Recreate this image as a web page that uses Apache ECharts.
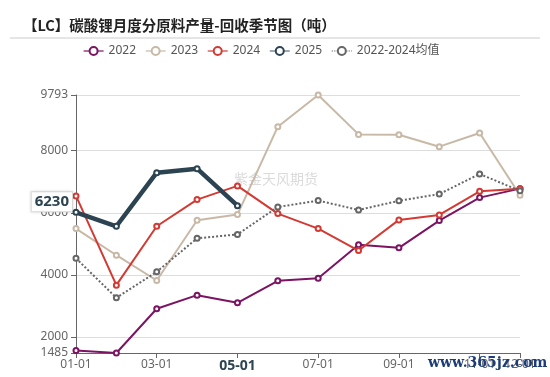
<!DOCTYPE html>
<html>
<head>
<meta charset="utf-8">
<script src="https://cdn.jsdelivr.net/npm/echarts@6/dist/echarts.min.js"></script>
<style>
  html, body { margin: 0; padding: 0; background: #fff; }
  #chart { width: 550px; height: 377px; }
</style>
</head>
<body>
<div id="chart"></div>
<script>
// 月份
const months = ['01-01', '02-01', '03-01', '04-01', '05-01', '06-01',
  '07-01', '08-01', '09-01', '10-01', '11-01', '12-01']

// 各年回收料产量（吨），读自原图
const y2022 = [1569, 1485, 2910, 3347, 3103, 3810, 3894, 4968, 4871, 5749, 6489, 6778]
const y2023 = [5492, 4634, 3820, 5760, 5942, 8772, 9793, 8524, 8514, 8129, 8569, 6563]
const y2024 = [6543, 3669, 5566, 6424, 6865, 5974, 5492, 4785, 5771, 5932, 6692, 6778]
const y2025 = [6017, 5566, 7293, 7421, 6230]
const avg2224 = [4535, 3263, 4099, 5177, 5303, 6185, 6393, 6092, 6385, 6603, 7250, 6706]

const latest = y2025[y2025.length - 1]

const chart = echarts.init(document.getElementById('chart'))

function lineSeries(name, data, color, width, extra) {
  return Object.assign({
    name,
    type: 'line',
    data,
    symbol: 'emptyCircle',
    symbolSize: 5,
    color,
    lineStyle: { width, color },
    itemStyle: { color, borderWidth: 1 },
  }, extra || {})
}

chart.setOption({
  animation: false,
  textStyle: { fontFamily: '"Noto Sans", "Noto Sans CJK SC", sans-serif' },
  title: {
    text: '【LC】碳酸锂月度分原料产量-回收季节图（吨）',
    left: 18,
    top: 13,
    textStyle: {
      fontSize: 14.5,
      fontWeight: 'bold',
      color: '#222',
      fontFamily: '"Noto Sans CJK SC", sans-serif',
    },
  },
  legend: {
    top: 40,
    left: 78,
    itemWidth: 20,
    itemHeight: 10,
    itemGap: 9,
    lineStyle: { width: 1.2 },
    itemStyle: { borderWidth: 1 },
    textStyle: { fontSize: 12, color: '#555' },
    data: [
      '2022',
      '2023',
      '2024',
      { name: '2025', itemStyle: { borderColor: '#5a7286' }, lineStyle: { color: '#5a7286' } },
      '2022-2024均值',
    ],
  },
  graphic: [
    {
      type: 'line',
      shape: { x1: 10, y1: 38, x2: 540, y2: 38 },
      style: { stroke: '#ccc', lineWidth: 1 },
    },
    {
      type: 'text',
      left: 234,
      top: 172,
      style: {
        text: '紫金天风期货',
        fontSize: 14,
        fill: 'rgba(150,150,150,0.35)',
        fontFamily: '"Noto Sans CJK SC", sans-serif',
      },
    },
    {
      type: 'text',
      left: 428,
      top: 356,
      z: 100,
      style: {
        text: 'www.365jz.com',
        fontSize: 14,
        fontWeight: 'bold',
        fill: '#1d3d7a',
        fontFamily: '"DejaVu Serif", serif',
      },
    },
  ],
  grid: { left: 76, right: 30, top: 95, bottom: 24 },
  xAxis: {
    type: 'category',
    boundaryGap: false,
    data: months,
    axisLine: { lineStyle: { color: '#666' } },
    axisTick: {
      alignWithLabel: true,
      interval: (i) => i % 2 === 0 || i === 11,
      lineStyle: { color: '#666' },
    },
    axisLabel: {
      interval: (i) => i % 2 === 0 || i === 11,
      color: '#666',
      fontSize: 12,
      margin: 6,
      formatter: (v) => (v === '05-01' ? '{b|' + v + '}' : v),
      rich: {
        b: { fontSize: 14, fontWeight: 'bold', color: '#2d4453' },
      },
    },
  },
  yAxis: {
    type: 'value',
    min: 'dataMin',
    max: 'dataMax',
    axisLine: { show: true, lineStyle: { color: '#666' } },
    axisTick: { show: true, lineStyle: { color: '#666' } },
    axisLabel: { color: '#666', fontSize: 12, formatter: (v) => String(v) },
    splitLine: { lineStyle: { color: '#ddd' } },
  },
  series: [
    lineSeries('2022', y2022, '#7b1463', 2),
    lineSeries('2023', y2023, '#c8b9a6', 2),
    lineSeries('2024', y2024, '#d23a33', 2),
    lineSeries('2025', y2025, '#2c4352', 4.5, {
      z: 5,
      markLine: {
        silent: true,
        symbol: 'none',
        lineStyle: { width: 0, color: 'rgba(0,0,0,0)' },
        data: [{ yAxis: latest }],
        label: {
          show: true,
          position: 'start',
          distance: 4,
          offset: [0, -4],
          formatter: String(latest),
          fontSize: 15,
          fontWeight: 'bold',
          color: '#2c4352',
          backgroundColor: '#fff',
          borderColor: '#ddd',
          borderWidth: 1,
          padding: [2, 3],
          shadowColor: 'rgba(0,0,0,0.15)',
          shadowBlur: 3,
        },
      },
    }),
    lineSeries('2022-2024均值', avg2224, '#666', 2, {
      lineStyle: { width: 2, color: '#666', type: 'dotted' },
    }),
  ],
})
</script>
</body>
</html>
